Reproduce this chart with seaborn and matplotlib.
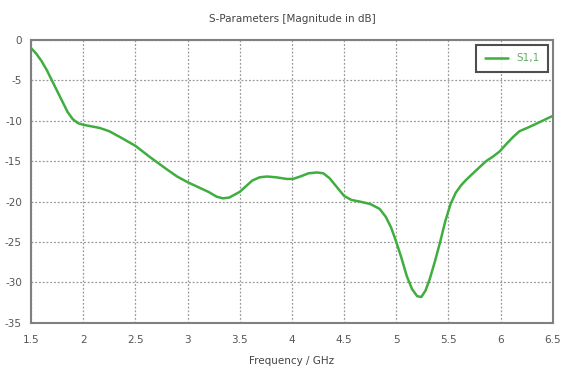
import matplotlib
matplotlib.use("Agg")
import matplotlib.pyplot as plt
import seaborn as sns
import pandas as pd

freq_ghz = [1.5, 1.55, 1.6, 1.65, 1.7, 1.75, 1.8, 1.85, 1.9, 1.95, 2.0, 2.08,
            2.16, 2.25, 2.35, 2.5, 2.64, 2.8, 2.9, 3.0, 3.1, 3.2, 3.28, 3.34,
            3.4, 3.5, 3.56, 3.62, 3.69, 3.76, 3.85, 3.95, 4.01, 4.08, 4.16,
            4.24, 4.3, 4.36, 4.43, 4.5, 4.57, 4.65, 4.75, 4.84, 4.9, 4.95,
            5.0, 5.05, 5.1, 5.15, 5.2, 5.24, 5.28, 5.32, 5.37, 5.42, 5.47,
            5.52, 5.57, 5.62, 5.67, 5.76, 5.86, 5.93, 5.99, 6.06, 6.12, 6.18,
            6.27, 6.37, 6.45, 6.5]
s11_db = [-1.0, -1.7, -2.6, -3.7, -5.0, -6.3, -7.6, -8.9, -9.8, -10.3, -10.5,
          -10.7, -10.9, -11.3, -12.0, -13.1, -14.5, -16.0, -16.9, -17.6,
          -18.2, -18.8, -19.4, -19.6, -19.5, -18.8, -18.1, -17.4, -17.0,
          -16.9, -17.0, -17.2, -17.2, -16.9, -16.5, -16.4, -16.5, -17.1,
          -18.2, -19.3, -19.8, -20.0, -20.3, -20.9, -21.9, -23.2, -25.0,
          -27.0, -29.2, -30.8, -31.7, -31.8, -31.0, -29.6, -27.4, -25.0,
          -22.4, -20.3, -18.9, -18.0, -17.3, -16.2, -15.0, -14.4, -13.8,
          -12.8, -12.0, -11.3, -10.8, -10.2, -9.7, -9.4]
x_ticks = [1.5, 2, 2.5, 3, 3.5, 4, 4.5, 5, 5.5, 6, 6.5]
y_ticks = [0, -5, -10, -15, -20, -25, -30, -35]
series_name = "S1,1"

df = pd.DataFrame({"Frequency": freq_ghz, "S11": s11_db, "series": series_name})

sns.set_style("white")
plt.rcParams['font.family'] = ['DejaVu Sans']

fig = plt.figure(figsize=(5.63, 3.69), dpi=100)
ax = fig.add_axes([0.055, 0.125, 0.927, 0.767])

sns.lineplot(data=df, x="Frequency", y="S11", hue="series",
             palette=["#3fae3f"], linewidth=1.8, ax=ax)

ax.set_xlim(1.5, 6.5)
ax.set_ylim(-35, 0)
ax.set_xticks(x_ticks)
ax.set_xticklabels([f"{t:g}" for t in x_ticks])
ax.set_yticks(y_ticks)
ax.set_yticklabels([f"{t:g}" for t in y_ticks])
ax.tick_params(axis="both", labelsize=7.5, colors="#555555", length=3,
               width=1, direction="out")
ax.tick_params(axis="x", pad=6)
ax.grid(True, linestyle=(0, (1.5, 1.5)), color="#999999", linewidth=0.9)

for s in ax.spines.values():
    s.set_color("#808080")
    s.set_linewidth(1.5)

ax.set_title("S-Parameters [Magnitude in dB]", fontsize=7.5, color="#444444", pad=13)
ax.set_xlabel("Frequency / GHz", fontsize=7.5, color="#444444", labelpad=8)
ax.set_ylabel("")

leg = ax.legend(loc="upper right", fontsize=7.5, frameon=True, fancybox=False,
                handlelength=2.2, borderpad=0.8, borderaxespad=0.5)
leg.get_frame().set_edgecolor("#222222")
leg.get_frame().set_linewidth(1.5)
for t in leg.get_texts():
    t.set_color("#66aa66")

fig.savefig("out.png", dpi=100)
